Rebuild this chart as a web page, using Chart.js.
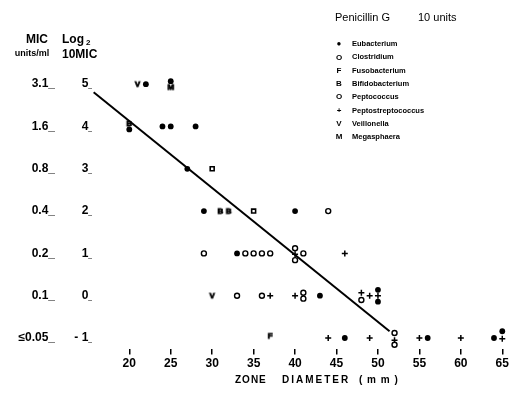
<!DOCTYPE html>
<html>
<head>
<meta charset="utf-8">
<script src="https://cdn.jsdelivr.net/npm/chart.js@4/dist/chart.umd.min.js"></script>
<style>
  html, body { margin: 0; padding: 0; background: #fff; }
  #wrap { width: 511px; height: 399px; position: relative; }
</style>
</head>
<body>
<div id="wrap"><canvas id="c" width="511" height="399"></canvas></div>
<script>
// ---- data (zone diameter mm, log2 10*MIC) ----
const xTicks = [20, 25, 30, 35, 40, 45, 50, 55, 60, 65];
const log2Ticks = [5, 4, 3, 2, 1, 0, -1];
const log2Labels = ['5_', '4_', '3_', '2_', '1_', '0_', '- 1_'];
const micLabels = ['3.1_', '1.6_', '0.8_', '0.4_', '0.2_', '0.1_', '≤0.05_'];

const eubacteriumX = [22, 25, 20, 24, 25, 28, 27, 29, 40, 33, 43, 50, 50, 46, 56, 64, 65];
const eubacteriumY = [5, 5.07, 3.93, 4, 4, 4, 3, 2, 2, 1, 0, 0.14, -0.14, -1, -1, -1, -0.84];
const clostridiumX = [30, 35];
const clostridiumY = [3, 2];
const fusobacteriumX = [37];
const fusobacteriumY = [-0.95];
const bifidobacteriumX = [20, 31, 32];
const bifidobacteriumY = [4.07, 2, 2];
const peptococcusX = [44, 29, 34, 35, 36, 37, 40, 40, 41, 33, 36, 41, 41, 48, 52, 52];
const peptococcusY = [2, 1, 1, 1, 1, 1, 1.12, 0.84, 1, 0, 0, 0.07, -0.07, -0.1, -0.88, -1.16];
const peptostreptococcusX = [46, 40, 37, 40, 48, 49, 50, 44, 49, 52, 55, 60, 65];
const peptostreptococcusY = [1, 0.98, 0, 0, 0.07, 0, 0, -1, -1, -1.05, -1, -1, -1.02];
const veillonellaX = [21, 30];
const veillonellaY = [5, 0];
const megasphaeraX = [25];
const megasphaeraY = [4.93];
const regressionX = [15.7, 51.4];
const regressionY = [4.81, -0.84];

const FONT = "'Liberation Sans', Arial, sans-serif";

function makeLetter(ch) {
  const cv = document.createElement('canvas');
  cv.width = 9; cv.height = 9;
  const g = cv.getContext('2d');
  g.fillStyle = '#000';
  g.strokeStyle = '#000';
  g.lineWidth = 0.8;
  g.font = 'bold 8px ' + FONT;
  g.textAlign = 'center';
  g.textBaseline = 'middle';
  g.fillText(ch, 4.5, 5);
  g.strokeText(ch, 4.5, 5);
  return cv;
}
const pts = (xs, ys) => xs.map((x, i) => ({ x: x, y: ys[i] }));

const series = [
  { label: 'Eubacterium', x: eubacteriumX, y: eubacteriumY, style: 'circle', bg: '#000', bw: 0, r: 2.9 },
  { label: 'Clostridium', x: clostridiumX, y: clostridiumY, style: 'rect', bg: '#fff', bw: 1.6, r: 2.8 },
  { label: 'Fusobacterium', x: fusobacteriumX, y: fusobacteriumY, style: makeLetter('F'), bg: '#000', bw: 0, r: 4.5 },
  { label: 'Bifidobacterium', x: bifidobacteriumX, y: bifidobacteriumY, style: makeLetter('B'), bg: '#000', bw: 0, r: 4.5 },
  { label: 'Peptococcus', x: peptococcusX, y: peptococcusY, style: 'circle', bg: '#fff', bw: 1.4, r: 2.5 },
  { label: 'Peptostreptococcus', x: peptostreptococcusX, y: peptostreptococcusY, style: 'cross', bg: '#000', bw: 1.5, r: 3 },
  { label: 'Veillonella', x: veillonellaX, y: veillonellaY, style: makeLetter('V'), bg: '#000', bw: 0, r: 4.5 },
  { label: 'Megasphaera', x: megasphaeraX, y: megasphaeraY, style: makeLetter('M'), bg: '#000', bw: 0, r: 4.5 }
];
const legendSymbols = ['●', 'O', 'F', 'B', 'O', '+', 'V', 'M'];

const datasets = series.map(s => ({
  type: 'scatter',
  label: s.label,
  data: pts(s.x, s.y),
  pointStyle: s.style,
  pointRadius: s.r,
  pointHoverRadius: s.r,
  backgroundColor: s.bg,
  borderColor: '#000',
  borderWidth: s.bw,
  order: 1
}));
datasets.push({
  type: 'line',
  label: 'regression',
  data: pts(regressionX, regressionY),
  borderColor: '#000',
  borderWidth: 2,
  pointRadius: 0,
  fill: false,
  order: 5
});

const textPlugin = {
  id: 'texts',
  afterDraw(chart) {
    const ctx = chart.ctx;
    ctx.save();
    ctx.fillStyle = '#000';
    // header of the left axes
    ctx.textBaseline = 'middle';
    ctx.textAlign = 'center';
    ctx.font = 'bold 12px ' + FONT;
    ctx.fillText('MIC', 37, 40);
    ctx.font = 'bold 9px ' + FONT;
    ctx.fillText('units/ml', 32, 54);
    ctx.textAlign = 'left';
    ctx.font = 'bold 12px ' + FONT;
    ctx.fillText('Log', 62, 40);
    ctx.font = 'bold 8px ' + FONT;
    ctx.fillText('2', 86, 43);
    ctx.font = 'bold 12px ' + FONT;
    ctx.fillText('10MIC', 62, 55);
    // legend title
    ctx.font = '11px ' + FONT;
    ctx.fillText('Penicillin G', 335, 18);
    ctx.fillText('10 units', 418, 18);
    // legend entries
    series.forEach((s, i) => {
      const y = 44 + i * 13.3;
      ctx.font = 'bold 8px ' + FONT;
      ctx.textAlign = 'center';
      ctx.fillText(legendSymbols[i], 339, y);
      ctx.textAlign = 'left';
      ctx.font = 'bold 7.5px ' + FONT;
      ctx.fillText(s.label, 352, y);
    });
    // x axis title (wide lettering)
    ctx.font = 'bold 10px ' + FONT;
    ctx.textAlign = 'left';
    ctx.letterSpacing = '1px';
    ctx.fillText('ZONE', 235, 380);
    ctx.letterSpacing = '2px';
    ctx.fillText('DIAMETER', 282, 380);
    ctx.letterSpacing = '1px';
    ctx.fillText('( m m )', 359, 380);
    ctx.restore();
  }
};

new Chart(document.getElementById('c'), {
  data: { datasets: datasets },
  options: {
    responsive: false,
    animation: false,
    events: [],
    layout: { padding: { left: 0, right: 4, top: 63, bottom: 10 } },
    plugins: { legend: { display: false }, tooltip: { enabled: false } },
    scales: {
      x: {
        type: 'linear',
        min: 15.5,
        max: 65.5,
        afterBuildTicks: a => { a.ticks = xTicks.map(v => ({ value: v })); },
        grid: { display: true, drawOnChartArea: false, drawTicks: true, tickLength: 6, color: '#000', lineWidth: 1.5 },
        border: { display: false },
        ticks: { color: '#000', font: { family: FONT, size: 12, weight: 'bold' }, padding: 2, maxRotation: 0 },
        title: { display: true, text: 'ZONE DIAMETER (mm)', color: 'rgba(0,0,0,0)', font: { family: FONT, size: 10, weight: 'bold' }, padding: { top: 4, bottom: 0 } }
      },
      y: {
        type: 'linear',
        position: 'left',
        weight: 0,
        min: -1.25,
        max: 5.5,
        afterBuildTicks: a => { a.ticks = log2Ticks.map(v => ({ value: v })); },
        afterFit: a => { a.width = 35; },
        grid: { display: false, drawTicks: false },
        border: { display: false },
        ticks: { color: '#000', font: { family: FONT, size: 12, weight: 'bold' }, padding: -3,
          callback: v => log2Labels[log2Ticks.indexOf(v)] }
      },
      ymic: {
        type: 'linear',
        position: 'left',
        weight: 1,
        min: -1.25,
        max: 5.5,
        afterBuildTicks: a => { a.ticks = log2Ticks.map(v => ({ value: v })); },
        afterFit: a => { a.width = 57; },
        grid: { display: false, drawTicks: false },
        border: { display: false },
        ticks: { color: '#000', font: { family: FONT, size: 12, weight: 'bold' }, padding: 2,
          callback: v => micLabels[log2Ticks.indexOf(v)] }
      }
    }
  },
  plugins: [textPlugin]
});
</script>
</body>
</html>
